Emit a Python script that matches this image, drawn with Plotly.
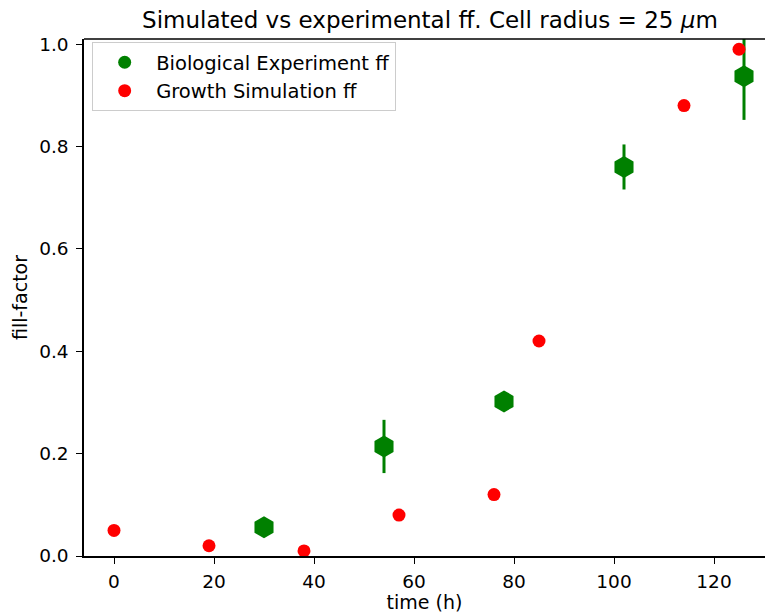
import plotly.graph_objects as go

sim_time = [0, 19, 38, 57, 76, 85, 114, 125]
sim_ff = [0.05, 0.02, 0.01, 0.08, 0.12, 0.42, 0.88, 0.99]

exp_time = [30, 54, 78, 102, 126]
exp_ff = [0.056, 0.214, 0.302, 0.760, 0.937]
exp_err = [0.015, 0.052, 0.018, 0.044, 0.085]

x_ticks = [0, 20, 40, 60, 80, 100, 120]
y_ticks = [0.0, 0.2, 0.4, 0.6, 0.8, 1.0]

GREEN = "#008000"
RED = "#ff0000"
FONT = "DejaVu Sans"

fig = go.Figure()
fig.add_trace(go.Scatter(
    x=exp_time, y=exp_ff, mode="markers", showlegend=False,
    marker=dict(symbol="hexagon", size=22, color=GREEN, line=dict(width=0)),
    error_y=dict(type="data", array=exp_err, visible=True, color=GREEN, thickness=3, width=0),
))
fig.add_trace(go.Scatter(
    x=sim_time, y=sim_ff, mode="markers", showlegend=False,
    marker=dict(symbol="circle", size=13, color=RED, line=dict(width=0)),
))
# legend-only entries (circle markers as in reference)
fig.add_trace(go.Scatter(x=[None], y=[None], mode="markers", name="Biological Experiment ff",
                         marker=dict(symbol="circle", size=13, color=GREEN)))
fig.add_trace(go.Scatter(x=[None], y=[None], mode="markers", name="Growth Simulation ff",
                         marker=dict(symbol="circle", size=13, color=RED)))

fig.update_layout(
    width=765, height=613,
    margin=dict(l=84, r=0, t=39, b=57),
    paper_bgcolor="white", plot_bgcolor="white",
    font=dict(family=FONT, size=19, color="black"),
    title=dict(text="Simulated vs experimental ff. Cell radius = 25 <i>μ</i>m",
               x=0.508, xref="paper", xanchor="center", y=0.967, yanchor="middle",
               font=dict(family=FONT, size=23, color="black")),
    showlegend=True,
    legend=dict(x=0.012, y=0.994, xanchor="left", yanchor="top",
                itemwidth=53,
                bgcolor="rgba(255,255,255,0.8)", bordercolor="#cccccc", borderwidth=1,
                font=dict(family=FONT, size=19.5, color="black")),
    xaxis=dict(range=[-6, 130.2], tickvals=x_ticks, ticktext=[str(v) for v in x_ticks],
               showgrid=False, zeroline=False, showline=True, linecolor="black", linewidth=1.5,
               ticks="outside", ticklen=6, tickwidth=1.2, tickcolor="black",
               ticklabelstandoff=2, tickfont=dict(size=18.5),
               title=dict(text="time (h)", standoff=8, font=dict(size=19))),
    yaxis=dict(range=[0, 1.01], tickvals=y_ticks, ticktext=[f"{v:.1f}" for v in y_ticks],
               showgrid=False, zeroline=False, showline=True, linecolor="black", linewidth=1.5,
               ticks="outside", ticklen=6, tickwidth=1.2, tickcolor="black",
               ticklabelstandoff=4, tickfont=dict(size=18.5),
               title=dict(text="fill-factor", standoff=6, font=dict(size=19))),
    shapes=[dict(type="line", xref="paper", yref="paper", x0=0, x1=1, y0=1, y1=1,
                 line=dict(color="black", width=1.5))],
)

fig.write_html("out.html")
